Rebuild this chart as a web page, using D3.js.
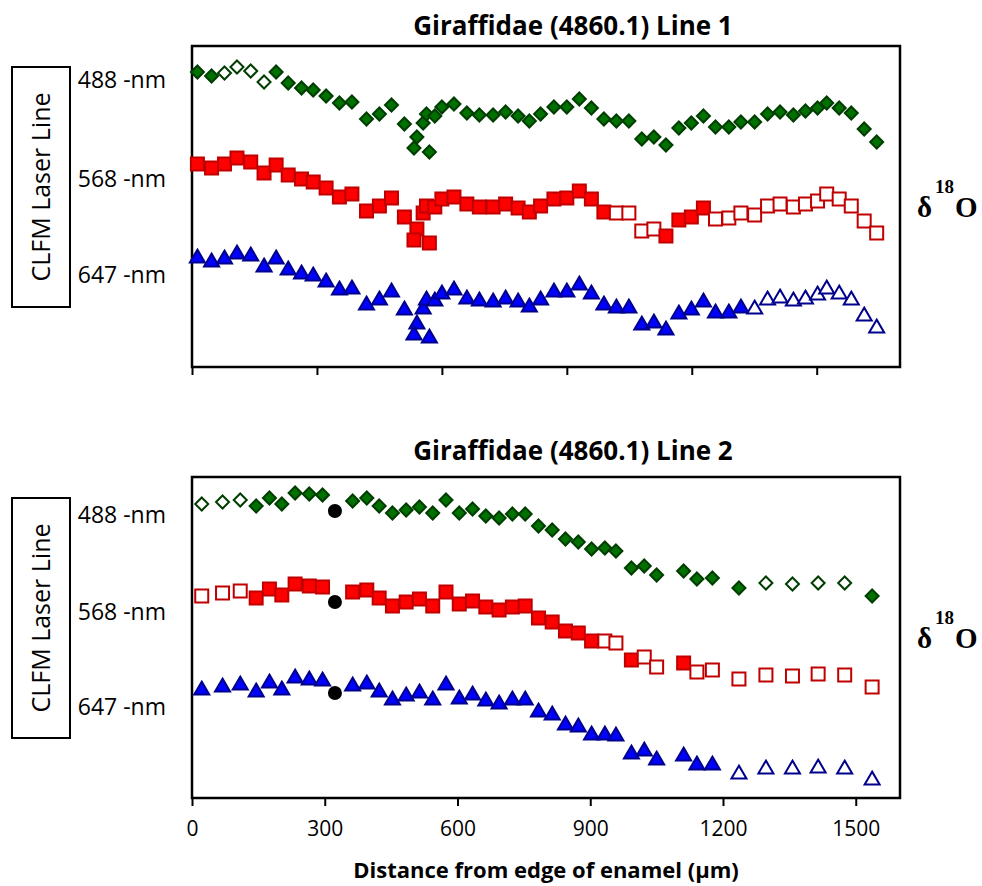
<!DOCTYPE html>
<html>
<head>
<meta charset="utf-8">
<script src="https://cdn.jsdelivr.net/npm/d3@7"></script>
<style>
  body { margin: 0; background: #fff; }
  text { font-family: "Open Sans", sans-serif; fill: #000; }
</style>
</head>
<body>
<div id="chart"></div>
<script>

// Laser lines (row labels)
var laserLines = ["488 -nm", "568 -nm", "647 -nm"];
var xTicks = [0, 300, 600, 900, 1200, 1500];

// Line 1 - distance from edge of enamel (um) and offset d18O values
var topX = [13,47,78,108,141,173,202,231,263,291,322,354,384,419,450,479,510,540,533,555,
  563,570,583,600,629,660,690,723,753,783,810,837,869,900,930,959,989,1019,1049,1080,
  1109,1138,1169,1199,1228,1257,1289,1318,1351,1382,1412,1444,1473,1502,1524,1554,1583,1614,1644];
var topGreen = [29.5,29.1,29.4,30.0,29.6,28.5,29.5,28.4,27.9,27.7,27.1,26.4,26.5,24.8,25.3,26.2,24.3,23.0,21.9,24.4,
  25.3,21.5,25.1,26.0,26.3,25.4,25.2,25.2,25.5,25.1,24.6,25.3,26.0,26.0,26.8,25.9,24.8,24.6,24.6,22.8,
  23.0,22.2,23.9,24.4,25.1,24.0,24.0,24.5,24.5,25.3,25.5,25.2,25.6,25.9,26.4,25.9,25.4,23.8,22.5];
var topRed = [20.3,19.9,20.3,20.9,20.5,19.4,20.2,19.2,18.8,18.5,17.9,17.0,17.3,15.6,16.1,16.9,15.0,13.8,12.7,15.4,
  16.1,12.4,16.0,16.8,17.0,16.3,16.0,16.0,16.3,15.9,15.5,16.1,16.8,16.9,17.6,16.8,15.5,15.4,15.4,13.6,
  13.8,13.1,14.7,15.0,15.9,14.8,14.9,15.4,15.2,16.1,16.3,16.0,16.3,16.6,17.3,16.8,16.1,14.6,13.4];
var topBlue = [11.1,10.7,11.0,11.5,11.3,10.2,11.0,9.9,9.5,9.3,8.7,7.9,8.0,6.4,6.9,7.7,5.9,4.5,3.4,6.0,
  6.9,3.1,6.8,7.5,7.9,7.0,6.8,6.7,7.0,6.7,6.2,6.9,7.7,7.7,8.4,7.5,6.4,6.1,6.1,4.4,
  4.6,3.9,5.5,5.9,6.7,5.6,5.6,6.1,6.0,6.9,7.1,6.8,7.0,7.4,8.0,7.5,6.9,5.3,4.1];
// indices of open (hollow) markers
var topGreenOpen = [2,3,4,5];
var topRedOpen = [37,38,39,40,45,46,47,48,49,50,51,52,53,54,55,56,57,58];
var topBlueOpen = [48,49,50,51,52,53,54,55,56,57,58];

// Line 2
var bottomX = [22,69,109,145,175,203,233,265,295,363,395,423,453,484,514,544,574,604,634,664,
  694,724,753,783,814,844,873,903,933,958,993,1022,1050,1111,1141,1176,1236,1297,1357,1415,1475,1537];
var bottomGreen = [29.4,29.6,29.8,29.2,30.0,29.4,30.5,30.4,30.3,29.7,30.0,29.2,28.5,28.8,29.1,28.5,29.8,28.5,28.9,28.2,
  28.0,28.4,28.4,27.2,26.8,25.9,25.6,24.9,25.0,24.7,23.0,23.2,22.3,22.7,21.9,22.0,21.0,21.5,21.4,21.5,21.5,20.2];
var bottomRed = [20.2,20.5,20.7,20.0,20.9,20.3,21.4,21.2,21.1,20.6,20.8,20.0,19.2,19.6,19.9,19.2,20.6,19.4,19.7,19.1,
  18.8,19.1,19.2,18.0,17.6,16.7,16.5,15.7,15.7,15.5,13.8,14.1,13.1,13.5,12.6,12.8,11.9,12.3,12.2,12.4,12.3,11.1];
var bottomBlue = [11.0,11.3,11.5,10.8,11.7,11.0,12.2,12.0,11.9,11.4,11.6,10.8,10.0,10.4,10.7,10.0,11.5,10.1,10.5,9.9,
  9.6,10.0,10.0,8.8,8.5,7.5,7.3,6.5,6.5,6.4,4.6,4.9,4.0,4.4,3.5,3.5,2.6,3.1,3.1,3.2,3.1,2.0];
var bottomGreenOpen = [0,1,2,37,38,39,40];
var bottomRedOpen = [0,1,2,28,29,31,32,34,35,36,37,38,39,40,41];
var bottomBlueOpen = [36,37,38,39,40,41];
// black reference dots
var dotX = [323, 323, 323];
var dotY = [28.7, 19.6, 10.5];

// Set the dimensions
var width = 708, height = 321, left = 192;

var svg = d3.select("#chart")
  .append("svg")
    .attr("width", 982)
    .attr("height", 886);

// custom marker shapes (size = half width)
var diamond = { draw: function(c, r) { c.moveTo(0, -r); c.lineTo(r, 0); c.lineTo(0, r); c.lineTo(-r, 0); c.closePath(); } };
var square = { draw: function(c, r) { c.rect(-r, -r, 2 * r, 2 * r); } };
var triangle = { draw: function(c, r) { c.moveTo(0, -r * 0.85); c.lineTo(r, r * 0.85); c.lineTo(-r, r * 0.85); c.closePath(); } };

function drawPanel(p) {
  var g = svg.append("g")
    .attr("transform", "translate(" + left + "," + p.top + ")");

  var x = d3.scaleLinear().domain([0, p.xMax]).range([0, width]);
  var y = d3.scaleLinear().domain([0, 32.1]).range([height, 0]);

  // X axis
  var xAxis = g.append("g")
    .attr("transform", "translate(0," + height + ")")
    .call(d3.axisBottom(x).tickValues(xTicks).tickSize(8).tickPadding(15)
      .tickFormat(p.labels ? d3.format("d") : ""));
  xAxis.select(".domain").remove();
  xAxis.selectAll("line").attr("stroke", "#000").attr("stroke-width", 2);
  xAxis.selectAll("text").style("font-family", "Open Sans").style("font-size", "21px");

  // laser line labels
  var yAxis = g.append("g")
    .call(d3.axisLeft(y).tickValues(p.laserPos).tickSize(0).tickPadding(26)
      .tickFormat(function(d, i) { return laserLines[i]; }));
  yAxis.select(".domain").remove();
  yAxis.selectAll("text").style("font-family", "Open Sans").style("font-size", "23px");

  // frame
  g.append("rect")
    .attr("width", width)
    .attr("height", height)
    .attr("fill", "none")
    .attr("stroke", "#000")
    .attr("stroke-width", 2.5);

  var series = [
    { v: p.green, open: p.greenOpen, type: diamond, r: 6.5, fill: "#007000", stroke: "#003d00" },
    { v: p.red, open: p.redOpen, type: square, r: 6.5, fill: "#ff0000", stroke: "#c00000" },
    { v: p.blue, open: p.blueOpen, type: triangle, r: 7.5, fill: "#0000ff", stroke: "#00008c" }
  ];

  series.forEach(function(s) {
    g.append("g")
      .selectAll("path")
      .data(s.v)
      .enter()
      .append("path")
        .attr("transform", function(d, i) { return "translate(" + x(p.xs[i]) + "," + y(d) + ")"; })
        .attr("d", d3.symbol().type(s.type).size(s.r))
        .attr("fill", function(d, i) { return s.open.indexOf(i) >= 0 ? "#fff" : s.fill; })
        .attr("stroke", s.stroke)
        .attr("stroke-width", 2);
  });

  if (p.dots) {
    g.append("g")
      .selectAll("circle")
      .data(p.dots.y)
      .enter()
      .append("circle")
        .attr("cx", function(d, i) { return x(p.dots.x[i]); })
        .attr("cy", function(d) { return y(d); })
        .attr("r", 7)
        .attr("fill", "#000");
  }

  // title
  g.append("text")
    .attr("x", 381)
    .attr("y", p.titleY)
    .attr("text-anchor", "middle")
    .style("font-size", "26px")
    .style("font-weight", "bold")
    .text(p.title);

  // CLFM box
  g.append("rect")
    .attr("x", -180)
    .attr("y", 21)
    .attr("width", 58)
    .attr("height", 240)
    .attr("fill", "none")
    .attr("stroke", "#000")
    .attr("stroke-width", 2);
  g.append("text")
    .attr("transform", "translate(-142,141) rotate(-90)")
    .attr("text-anchor", "middle")
    .style("font-size", "25px")
    .text("CLFM Laser Line");

  // d18O label
  var lab = g.append("text")
    .attr("y", 171)
    .style("font-family", "Liberation Serif")
    .style("font-weight", "bold")
    .style("font-size", "29px");
  lab.append("tspan").attr("x", 725).text("δ");
  lab.append("tspan").attr("x", 743).attr("dy", -24).style("font-size", "19px").text("18");
  lab.append("tspan").attr("x", 763).attr("dy", 24).text("O");

  // X axis label
  if (p.labels) {
    g.append("text")
      .attr("x", 354)
      .attr("y", 401)
      .attr("text-anchor", "middle")
      .style("font-size", "22px")
      .style("font-weight", "bold")
      .text("Distance from edge of enamel (µm)");
  }
}

drawPanel({
  top: 46, xMax: 1700, labels: false, title: "Giraffidae (4860.1) Line 1", titleY: -11,
  xs: topX, green: topGreen, red: topRed, blue: topBlue,
  greenOpen: topGreenOpen, redOpen: topRedOpen, blueOpen: topBlueOpen,
  laserPos: [28.7, 18.8, 9.2]
});

drawPanel({
  top: 477, xMax: 1600, labels: true, title: "Giraffidae (4860.1) Line 2", titleY: -17,
  xs: bottomX, green: bottomGreen, red: bottomRed, blue: bottomBlue,
  greenOpen: bottomGreenOpen, redOpen: bottomRedOpen, blueOpen: bottomBlueOpen,
  laserPos: [28.3, 18.6, 9.1],
  dots: { x: dotX, y: dotY }
});

</script>
</body>
</html>
